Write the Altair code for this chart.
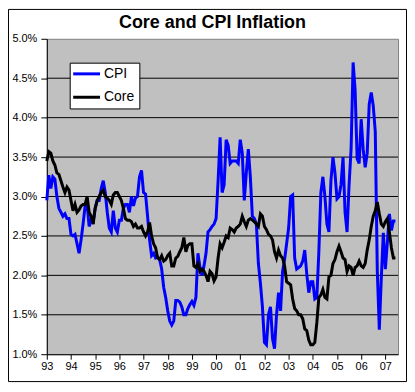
import altair as alt
import pandas as pd

start_year = 1993
chart_title = "Core and CPI Inflation"
series_names = ["CPI", "Core"]
series_colors = ["#0000ff", "#000000"]
year_ticks = list(range(1993, 2008))
pct_ticks = [1.0, 1.5, 2.0, 2.5, 3.0, 3.5, 4.0, 4.5, 5.0]

cpi = [
    2.95, 3.27, 3.10, 3.25, 3.22, 3.00, 2.85, 2.80, 2.75, 2.78, 2.72, 2.72,
    2.52, 2.50, 2.52, 2.40, 2.28, 2.45, 2.65, 2.88, 2.90, 2.62, 2.70, 2.68,
    2.85, 2.95, 2.95, 3.10, 3.20, 3.05, 2.80, 2.60, 2.55, 2.82, 2.60, 2.55,
    2.70, 2.70, 2.85, 2.90, 2.90, 2.80, 3.00, 2.88, 2.98, 3.00, 3.25, 3.33,
    3.05, 3.03, 2.75, 2.45, 2.25, 2.28, 2.22, 2.23, 2.20, 2.08, 1.85, 1.72,
    1.55, 1.42, 1.37, 1.42, 1.68, 1.68, 1.66, 1.60, 1.50, 1.50, 1.58, 1.63,
    1.67, 1.62, 1.72, 2.28, 2.10, 2.00, 2.12, 2.28, 2.55, 2.58, 2.62, 2.65,
    2.72, 3.20, 3.75, 3.05, 3.15, 3.72, 3.65, 3.42, 3.45, 3.45, 3.45, 3.42,
    3.72, 3.55, 2.95, 3.30, 3.60, 3.25, 2.75, 2.72, 2.65, 2.15, 1.90, 1.60,
    1.15, 1.12, 1.50, 1.60, 1.20, 1.07, 1.50, 1.78, 1.55, 2.05, 2.20, 2.40,
    2.60, 3.00, 3.02, 2.22, 2.08, 2.10, 2.12, 2.18, 2.32, 2.02, 1.78, 1.92,
    1.92, 1.70, 1.72, 2.30, 3.05, 3.25, 3.00, 2.65, 2.55, 3.20, 3.50, 3.30,
    2.97, 3.00, 3.15, 3.50, 2.80, 2.55, 3.15, 3.60, 4.70, 4.35, 3.48, 3.42,
    3.98, 3.60, 3.37, 3.55, 4.17, 4.32, 4.15, 3.82, 2.06, 1.31, 1.97, 2.54,
    2.08, 2.42, 2.78, 2.57, 2.69, 2.69,
]

core = [
    3.45, 3.57, 3.55, 3.45, 3.40, 3.30, 3.28, 3.20, 3.12, 3.05, 3.12, 3.08,
    2.95, 2.82, 2.90, 2.80, 2.83, 2.88, 2.90, 2.90, 3.00, 2.80, 2.75, 2.65,
    2.85, 2.95, 3.00, 3.05, 3.08, 3.00, 2.98, 2.95, 2.90, 3.02, 3.05, 3.05,
    3.00, 2.95, 2.85, 2.72, 2.70, 2.70, 2.68, 2.62, 2.65, 2.60, 2.60, 2.62,
    2.55, 2.50, 2.55, 2.67, 2.50, 2.40, 2.35, 2.22, 2.20, 2.25, 2.18, 2.20,
    2.25, 2.28, 2.12, 2.12, 2.22, 2.24, 2.30, 2.35, 2.48, 2.30, 2.38, 2.40,
    2.40, 2.12, 2.10, 2.15, 2.05, 2.08, 2.05, 2.00, 1.92, 2.05, 2.02, 1.93,
    1.98, 2.22, 2.40, 2.35, 2.42, 2.50, 2.48, 2.60, 2.58, 2.55, 2.60, 2.62,
    2.65, 2.75, 2.68, 2.62, 2.70, 2.72, 2.70, 2.68, 2.65, 2.62, 2.78, 2.75,
    2.62, 2.58, 2.52, 2.50, 2.45, 2.30, 2.22, 2.32, 2.25, 2.22, 2.12, 1.92,
    1.90, 1.88, 1.70, 1.58, 1.55, 1.50, 1.50, 1.45, 1.32, 1.30, 1.18, 1.12,
    1.12, 1.15, 1.40, 1.72, 1.75, 1.82, 1.72, 1.70, 1.98, 2.00, 2.15, 2.20,
    2.30, 2.37, 2.30, 2.22, 2.20, 2.05, 2.12, 2.10, 2.00, 2.10, 2.12, 2.18,
    2.12, 2.10, 2.15, 2.32, 2.45, 2.62, 2.75, 2.82, 2.93, 2.78, 2.65, 2.62,
    2.68, 2.72, 2.55, 2.35, 2.22, 2.22,
]

n = len(cpi)
t = [start_year + i / 12 for i in range(n)]
df = pd.DataFrame({"t": t, "CPI": cpi, "Core": core}).melt(
    id_vars="t", var_name="series", value_name="value"
)

FONT = "Liberation Sans"
yscale = alt.Scale(domain=[1, 5], nice=False, zero=False)
yaxis = alt.Axis(
    values=pct_ticks,
    labelExpr="format(datum.value, '.1f') + '%'",
    title=None, grid=False,
    tickSize=6, labelPadding=4,
    labelFont=FONT, labelFontSize=11, labelColor="black",
    domainColor="black", tickColor="black",
)

base = alt.Chart(df).mark_line(strokeWidth=3).encode(
    x=alt.X(
        "t:Q",
        scale=alt.Scale(domain=[1993, 2007.525], nice=False, zero=False),
        axis=alt.Axis(
            values=year_ticks,
            labelExpr="substring(toString(datum.value), 2)",
            title=None, grid=False, tickSize=5, labelPadding=1,
            labelFont=FONT, labelFontSize=11, labelColor="black",
            domainColor="black", tickColor="black", labelFlush=False,
        ),
    ),
    y=alt.Y("value:Q", scale=yscale, axis=yaxis),
    color=alt.Color(
        "series:N",
        scale=alt.Scale(domain=series_names, range=series_colors),
        legend=alt.Legend(
            title=None, orient="none", legendX=23, legendY=24, direction="vertical",
            symbolType="M-2.4545,0H2.4545", symbolSize=121, symbolStrokeWidth=3,
            symbolOffset=5.75,
            labelFont=FONT, labelFontSize=14, labelColor="black", labelOffset=10.5,
            padding=4.25, rowPadding=9.5, strokeColor="black", fillColor="white",
        ),
    ),
)

cpi_layer = base.transform_filter(alt.datum.series == "CPI")
core_layer = base.transform_filter(alt.datum.series == "Core")

grid = alt.Chart(pd.DataFrame({"g": pct_ticks[1:-1]})).mark_rule(
    color="black", strokeWidth=1
).encode(y=alt.Y("g:Q", scale=yscale, axis=yaxis))

one = pd.DataFrame({"a": [0]})
border = alt.Chart(one).mark_rect(
    filled=False, stroke="black", strokeWidth=1
).encode(
    x=alt.value(-38.5), x2=alt.value(361.5), y=alt.value(-29.5), y2=alt.value(344.5)
)

title = alt.Chart(one).mark_text(
    text=chart_title, font=FONT, fontSize=18, fontWeight="bold",
    align="center", baseline="alphabetic", color="black",
).encode(x=alt.value(166.5), y=alt.value(-11))

chart = alt.layer(border, title, grid, cpi_layer, core_layer).properties(
    width=353,
    height=317,
    padding={"left": 39, "top": 30, "right": 9, "bottom": 29},
    autosize=alt.AutoSizeParams(type="none"),
    background="white",
).configure_view(
    fill="#c0c0c0", stroke="#808080", strokeWidth=1
)

chart.save("out.html", embed_options={"renderer": "svg", "actions": False})
